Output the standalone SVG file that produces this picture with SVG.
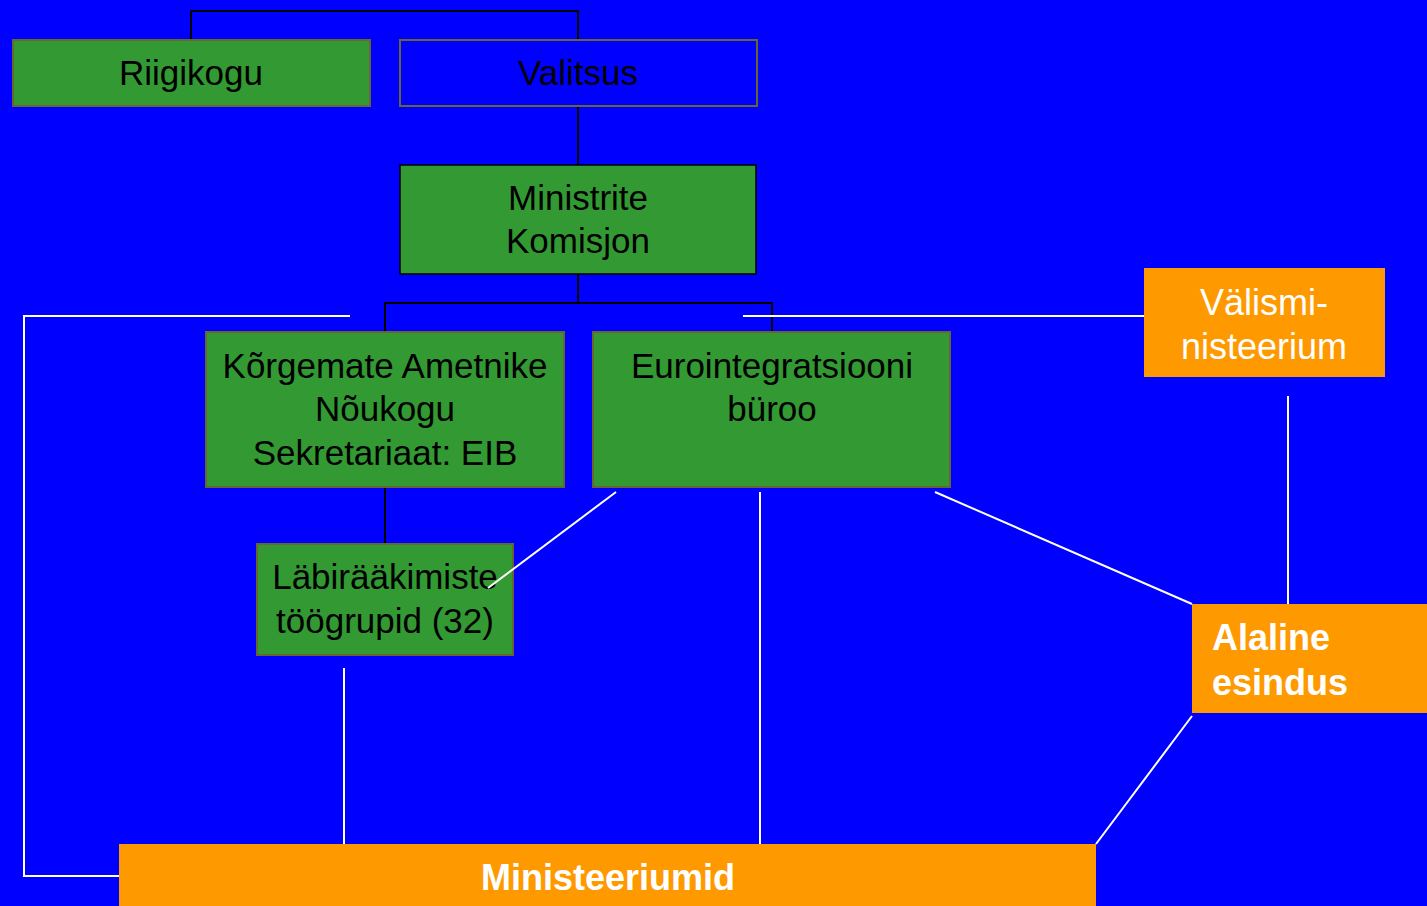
<svg xmlns="http://www.w3.org/2000/svg" width="1427" height="906" viewBox="0 0 1427 906">
<style>
.g{fill:#339933;stroke:#666633;stroke-width:2}
.o{fill:#FF9900}
.t{font-family:"Liberation Sans",Arial,sans-serif;font-size:35px;fill:#000;text-anchor:middle}
.w{font-family:"Liberation Sans",Arial,sans-serif;font-size:36px;fill:#fff}
.b{font-weight:bold}
.k{stroke:#000;stroke-width:2;fill:none}
.l{stroke:#fff;stroke-width:2;fill:none}
</style>
<rect width="1427" height="906" fill="#0000FF"/>
<g id="connectors">
<polyline class="k" points="191,40 191,11 578,11 578,40"/>
<line class="k" x1="578" y1="106" x2="578" y2="165"/>
<polyline class="k" points="385,332 385,303 772,303 772,332"/>
<line class="k" x1="578" y1="274" x2="578" y2="303"/>
<line class="k" x1="385" y1="487" x2="385" y2="544"/>
<polyline class="l" points="350,316 24,316 24,876 119,876"/>
<line class="l" x1="743" y1="316" x2="1144" y2="316"/>
<line class="l" x1="1288" y1="396" x2="1288" y2="604"/>
<line class="l" x1="760" y1="492" x2="760" y2="844"/>
<line class="l" x1="935" y1="492" x2="1192" y2="604"/>
<line class="l" x1="1192" y1="716" x2="1096" y2="844"/>
<line class="l" x1="344" y1="668" x2="344" y2="844"/>
</g>
<g id="riigikogu"><rect class="g" x="13" y="40" width="357" height="66"/><text class="t" x="191" y="85">Riigikogu</text></g>
<g id="valitsus"><rect x="400" y="40" width="357" height="66" fill="#0000FF" stroke="#666633" stroke-width="2"/><text class="t" x="578" y="85">Valitsus</text></g>
<g id="ministrite"><rect x="400" y="165" width="356" height="109" fill="#339933" stroke="#000" stroke-width="1.5"/><text class="t" x="578" y="210">Ministrite</text><text class="t" x="578" y="253">Komisjon</text></g>
<g id="korgemate"><rect class="g" x="206" y="332" width="358" height="155"/><text class="t" x="385" y="378">Kõrgemate Ametnike</text><text class="t" x="385" y="421">Nõukogu</text><text class="t" x="385" y="465">Sekretariaat: EIB</text></g>
<g id="euro"><rect class="g" x="593" y="332" width="357" height="155"/><text class="t" x="772" y="378">Eurointegratsiooni</text><text class="t" x="772" y="421">büroo</text></g>
<g id="labi"><rect class="g" x="257" y="544" width="256" height="111"/><text class="t" x="385" y="589">Läbirääkimiste</text><text class="t" x="385" y="633">töögrupid (32)</text></g>
<line class="l" x1="616" y1="492" x2="488" y2="588"/>
<g id="valisministeerium"><rect class="o" x="1144" y="268" width="241" height="109"/><text class="w" x="1264" y="315" text-anchor="middle">Välismi-</text><text class="w" x="1264" y="359" text-anchor="middle">nisteerium</text></g>
<g id="alaline"><rect class="o" x="1192" y="604" width="235" height="109"/><text class="w b" x="1212" y="650">Alaline</text><text class="w b" x="1212" y="695">esindus</text></g>
<g id="ministeeriumid"><rect class="o" x="119" y="844" width="977" height="62"/><text class="w b" x="608" y="890" text-anchor="middle">Ministeeriumid</text></g>
</svg>
